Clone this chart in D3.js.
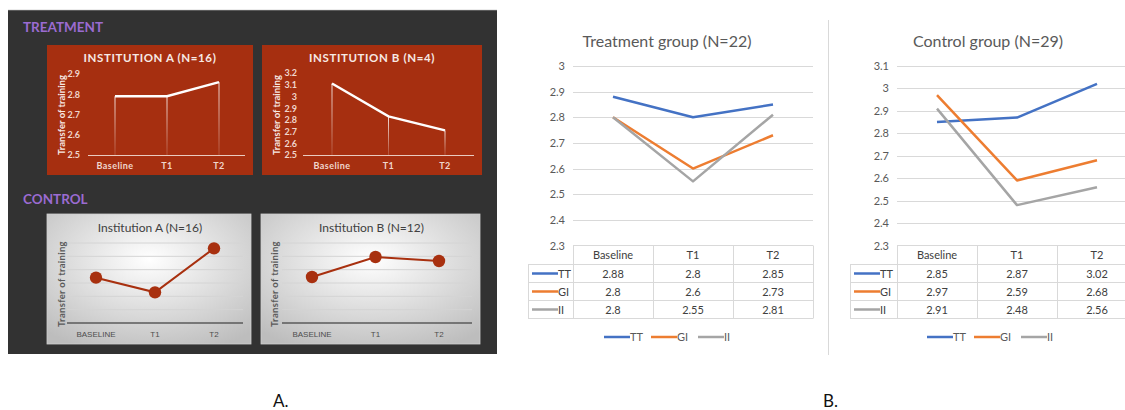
<!DOCTYPE html>
<html><head><meta charset="utf-8">
<script src="https://cdn.jsdelivr.net/npm/d3@7"></script>
<style>body{margin:0;background:#fff}svg{display:block}</style>
</head><body>
<svg id="c" width="1125" height="410"></svg>
<script>
// ---- data ----
const timepoints = ["Baseline", "T1", "T2"];
const timepointsUpper = ["BASELINE", "T1", "T2"];
const treatInstA = [2.79, 2.79, 2.86];
const treatInstB = [3.11, 2.83, 2.71];
const ctrlInstA = [2.84, 2.73, 3.06];
const ctrlInstB = [2.845, 2.995, 2.965];
const treatTicksA = [2.5, 2.6, 2.7, 2.8, 2.9];
const treatTicksB = [2.5, 2.6, 2.7, 2.8, 2.9, 3.0, 3.1, 3.2];
const ctrlGrid = [2.5, 2.6, 2.7, 2.8, 2.9, 3.0, 3.1];
const seriesNames = ["TT", "GI", "II"];
const treatmentTT = [2.88, 2.8, 2.85];
const treatmentGI = [2.8, 2.6, 2.73];
const treatmentII = [2.8, 2.55, 2.81];
const controlTT = [2.85, 2.87, 3.02];
const controlGI = [2.97, 2.59, 2.68];
const controlII = [2.91, 2.48, 2.56];
const treatmentTicks = [2.3, 2.4, 2.5, 2.6, 2.7, 2.8, 2.9, 3.0];
const controlTicks = [2.3, 2.4, 2.5, 2.6, 2.7, 2.8, 2.9, 3.0, 3.1];
const seriesColors = ["#4472c4", "#ed7d31", "#a5a5a5"];
const panelLabels = ["A.", "B."];

const svg = d3.select("#c");
const fmt = v => String(+v.toFixed(2));

// ---- Part A: dark slide ----
svg.append("rect").attr("x", 8).attr("y", 10).attr("width", 489).attr("height", 344).attr("fill", "#323232");
svg.append("line").attr("x1", 8).attr("x2", 497).attr("y1", 10).attr("y2", 10).attr("stroke", "#bfbfbf").attr("stroke-width", 0.6);
const defs = svg.append("defs");
const rg = defs.append("radialGradient").attr("id", "grayg").attr("cx", "50%").attr("cy", "35%").attr("r", "75%");
rg.append("stop").attr("offset", "0%").attr("stop-color", "#ffffff");
rg.append("stop").attr("offset", "100%").attr("stop-color", "#bdbdbd");
const dg = defs.append("linearGradient").attr("id", "dropg").attr("x1", 0).attr("x2", 0).attr("y1", 0).attr("y2", 1);
dg.append("stop").attr("offset", "0%").attr("stop-color", "#ffffff").attr("stop-opacity", 0.85);
dg.append("stop").attr("offset", "100%").attr("stop-color", "#ffffff").attr("stop-opacity", 0.15);

svg.append("text").attr("x", 23).attr("y", 32).text("TREATMENT")
  .attr("font-family", "Lato, sans-serif").attr("font-weight", 700).attr("font-size", 13.5).attr("fill", "#9b6bd1");
svg.append("text").attr("x", 23).attr("y", 204).text("CONTROL")
  .attr("font-family", "Lato, sans-serif").attr("font-weight", 700).attr("font-size", 13.5).attr("fill", "#9b6bd1");

function redPanel(cfg) {
  const g = svg.append("g");
  g.append("rect").attr("x", cfg.px).attr("y", 45).attr("width", cfg.pw).attr("height", 130).attr("fill", "#a62f10");
  g.append("text").attr("x", cfg.px + cfg.pw / 2).attr("y", 62).attr("text-anchor", "middle").text(cfg.title)
    .attr("font-family", "Lato, sans-serif").attr("font-weight", 700).attr("font-size", 11.5).attr("letter-spacing", 0.6).attr("fill", "#f7e9e4");
  const x = d3.scalePoint().domain(timepoints).range(cfg.xr);
  const y = d3.scaleLinear().domain([2.5, cfg.ticks[cfg.ticks.length - 1]]).range([155, cfg.ytop]);
  const ya = g.append("g").attr("transform", `translate(${cfg.lx},0)`)
    .call(d3.axisLeft(y).tickValues(cfg.ticks).tickSize(0).tickPadding(0).tickFormat(fmt));
  ya.select(".domain").remove();
  ya.selectAll("text").attr("font-family", "Lato, sans-serif").attr("font-weight", 700).attr("font-size", 9).attr("fill", "#f0d6cc");
  g.append("line").attr("x1", cfg.ax[0]).attr("x2", cfg.ax[1]).attr("y1", 155.5).attr("y2", 155.5).attr("stroke", "#eacbc0").attr("stroke-width", 1);
  g.selectAll(".drop").data(cfg.vals).join("rect").attr("x", (d, i) => x(timepoints[i]) - 0.5).attr("width", 1)
    .attr("y", d => y(d)).attr("height", d => 155 - y(d)).attr("fill", "url(#dropg)");
  g.append("path").datum(cfg.vals).attr("fill", "none").attr("stroke", "#ffffff").attr("stroke-width", 2.4)
    .attr("d", d3.line().x((d, i) => x(timepoints[i])).y(d => y(d)));
  g.selectAll(".cl").data(timepoints).join("text").attr("x", d => x(d)).attr("y", 169).attr("text-anchor", "middle").text(d => d)
    .attr("font-family", "Lato, sans-serif").attr("font-weight", 700).attr("font-size", 9).attr("letter-spacing", 0.4).attr("fill", "#f0d6cc");
  g.append("text").attr("transform", `translate(${cfg.tx},115) rotate(-90)`).attr("text-anchor", "middle").text("Transfer of training")
    .attr("font-family", "Lato, sans-serif").attr("font-weight", 700).attr("font-size", 9.5).attr("fill", "#f7e9e4");
}
redPanel({px: 47, pw: 206, title: "INSTITUTION A (N=16)", xr: [115, 219], ticks: treatTicksA, ytop: 74, lx: 80, ax: [88, 245], vals: treatInstA, tx: 65});
redPanel({px: 262, pw: 220, title: "INSTITUTION B (N=4)", xr: [332, 445], ticks: treatTicksB, ytop: 73, lx: 297, ax: [303, 474], vals: treatInstB, tx: 280});

function grayPanel(cfg) {
  const g = svg.append("g");
  g.append("rect").attr("x", cfg.px).attr("y", 214).attr("width", cfg.pw).attr("height", 130).attr("fill", "url(#grayg)")
    .attr("stroke", "#cfcfcf").attr("stroke-width", 0.8);
  g.append("text").attr("x", cfg.px + cfg.pw / 2 + 1).attr("y", 232).attr("text-anchor", "middle").text(cfg.title)
    .attr("font-family", "Lato, sans-serif").attr("font-size", 12).attr("fill", "#404040");
  const x = d3.scalePoint().domain(timepoints).range(cfg.xr);
  const y = d3.scaleLinear().domain([2.5, 3.1]).range([323, 243]);
  g.selectAll(".gl").data(ctrlGrid.slice(1)).join("line").attr("x1", cfg.gx[0]).attr("x2", cfg.gx[1])
    .attr("y1", d => y(d)).attr("y2", d => y(d)).attr("stroke", "#d4d4d4").attr("stroke-width", 1);
  g.append("line").attr("x1", cfg.gx[0]).attr("x2", cfg.gx[1]).attr("y1", y(2.5)).attr("y2", y(2.5)).attr("stroke", "#5a5a5a").attr("stroke-width", 1.6);
  g.append("path").datum(cfg.vals).attr("fill", "none").attr("stroke", "#a8300f").attr("stroke-width", 2)
    .attr("d", d3.line().x((d, i) => x(timepoints[i])).y(d => y(d)));
  g.selectAll(".pt").data(cfg.vals).join("circle").attr("cx", (d, i) => x(timepoints[i])).attr("cy", d => y(d)).attr("r", 6.2).attr("fill", "#a8300f");
  g.selectAll(".cl").data(timepointsUpper).join("text").attr("x", (d, i) => x(timepoints[i])).attr("y", 337).attr("text-anchor", "middle").text(d => d)
    .attr("font-family", "'Liberation Sans Narrow', 'Liberation Sans', sans-serif").attr("font-size", 8).attr("fill", "#4d4d4d");
  g.append("text").attr("transform", `translate(${cfg.tx},284) rotate(-90)`).attr("text-anchor", "middle").text("Transfer of training")
    .attr("font-family", "Lato, sans-serif").attr("font-weight", 700).attr("font-size", 9.5).attr("fill", "#595959").attr("letter-spacing", 0.3);
}
grayPanel({px: 47, pw: 204, title: "Institution A (N=16)", xr: [96, 214], gx: [67, 243], vals: ctrlInstA, tx: 65});
grayPanel({px: 261, pw: 219, title: "Institution B (N=12)", xr: [312, 439], gx: [282, 472], vals: ctrlInstB, tx: 278});

// ---- Part B: Excel-style charts ----
svg.append("line").attr("x1", 828.5).attr("x2", 828.5).attr("y1", 20).attr("y2", 355).attr("stroke", "#d9d9d9").attr("stroke-width", 1);

function excelChart(cfg) {
  const g = svg.append("g");
  const font = "Lato, 'Open Sans', sans-serif";
  g.append("text").attr("x", cfg.tcx).attr("y", 47).attr("text-anchor", "middle").text(cfg.title)
    .attr("font-family", font).attr("font-size", 16).attr("fill", "#595959");
  const x = d3.scaleBand().domain(timepoints).range([cfg.x0, cfg.x0 + 240]);
  const y = d3.scaleLinear().domain([2.3, cfg.ticks[cfg.ticks.length - 1]]).range([245.5, 66]);
  g.selectAll(".gl").data(cfg.ticks.slice(1)).join("line").attr("x1", cfg.x0).attr("x2", cfg.gEnd)
    .attr("y1", d => Math.round(y(d)) + 0.5).attr("y2", d => Math.round(y(d)) + 0.5).attr("stroke", "#d9d9d9").attr("stroke-width", 1);
  const ya = g.append("g").attr("transform", `translate(${cfg.x0 - 8},0)`)
    .call(d3.axisLeft(y).tickValues(cfg.ticks).tickSize(0).tickPadding(0).tickFormat(fmt));
  ya.select(".domain").remove();
  ya.selectAll("text").attr("font-family", font).attr("font-size", 11).attr("fill", "#595959");
  // table
  const rowY = [245.5, 264.5, 282.5, 300.5, 318.5];
  const tb = g.append("g").attr("stroke", "#d9d9d9").attr("stroke-width", 1).attr("fill", "none");
  const colX = [cfg.x0, cfg.x0 + 80, cfg.x0 + 160, cfg.x0 + 240].map(v => v + 0.5);
  colX.forEach(cx => tb.append("line").attr("x1", cx).attr("x2", cx).attr("y1", 245.5).attr("y2", 318.5));
  tb.append("line").attr("x1", cfg.lx + 0.5).attr("x2", cfg.lx + 0.5).attr("y1", 264.5).attr("y2", 318.5);
  rowY.slice(1).forEach(ry => tb.append("line").attr("x1", cfg.lx).attr("x2", cfg.x0 + 240).attr("y1", ry).attr("y2", ry));
  tb.append("line").attr("x1", cfg.x0).attr("x2", cfg.x0 + 240).attr("y1", 245.5).attr("y2", 245.5);
  g.selectAll(".hd").data(timepoints).join("text").attr("x", d => x(d) + x.bandwidth() / 2).attr("y", 259).attr("text-anchor", "middle").text(d => d)
    .attr("font-family", font).attr("font-size", 11).attr("fill", "#404040");
  cfg.series.forEach((vals, si) => {
    const cy = (rowY[si + 1] + rowY[si + 2]) / 2;
    g.append("line").attr("x1", cfg.lx + 4).attr("x2", cfg.lx + 30).attr("y1", cy).attr("y2", cy).attr("stroke", seriesColors[si]).attr("stroke-width", 2.5);
    g.append("text").attr("x", cfg.lx + 30).attr("y", cy + 4).text(seriesNames[si]).attr("font-family", font).attr("font-size", 11).attr("fill", "#404040");
    g.selectAll(".v" + si).data(vals).join("text").attr("x", (d, i) => x(timepoints[i]) + x.bandwidth() / 2).attr("y", cy + 4)
      .attr("text-anchor", "middle").text(d => fmt(d)).attr("font-family", font).attr("font-size", 11).attr("fill", "#404040");
  });
  // lines
  cfg.series.forEach((vals, si) => {
    g.append("path").datum(vals).attr("fill", "none").attr("stroke", seriesColors[si]).attr("stroke-width", 2.5).attr("stroke-linejoin", "round")
      .attr("d", d3.line().x((d, i) => x(timepoints[i]) + x.bandwidth() / 2).y(d => y(d)));
  });
  // legend
  seriesNames.forEach((nm, si) => {
    const lx = cfg.legX + si * 47;
    g.append("line").attr("x1", lx).attr("x2", lx + 26).attr("y1", 337).attr("y2", 337).attr("stroke", seriesColors[si]).attr("stroke-width", 2.5);
    g.append("text").attr("x", lx + 26).attr("y", 341).text(nm).attr("font-family", font).attr("font-size", 11).attr("fill", "#595959");
  });
}
excelChart({title: "Treatment group (N=22)", tcx: 667, x0: 573, gEnd: 813, lx: 528, ticks: treatmentTicks,
  series: [treatmentTT, treatmentGI, treatmentII], legX: 604});
excelChart({title: "Control group (N=29)", tcx: 988, x0: 897, gEnd: 1137, lx: 850, ticks: controlTicks,
  series: [controlTT, controlGI, controlII], legX: 927});

svg.selectAll(".plabel").data(panelLabels).join("text").attr("x", (d, i) => [273, 823][i]).attr("y", 407).text(d => d)
  .attr("font-family", "Lato, 'Open Sans', sans-serif").attr("font-size", 17).attr("fill", "#111");
</script>
</body></html>
